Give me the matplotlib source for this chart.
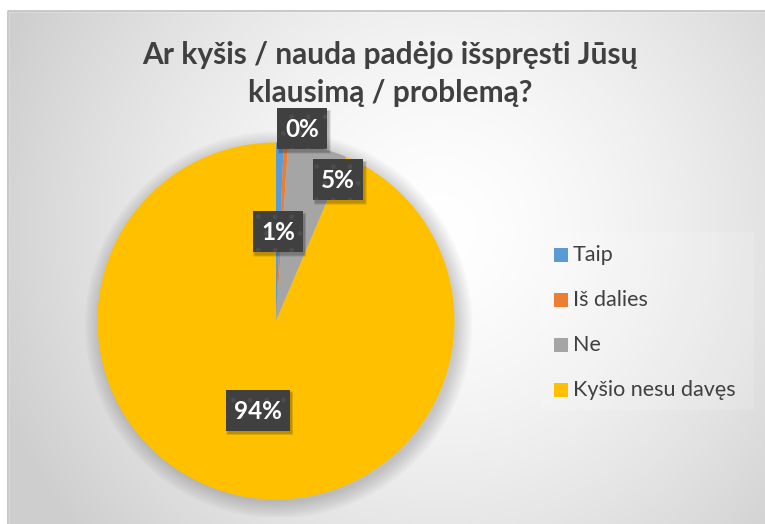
import numpy as np
import matplotlib
matplotlib.use('Agg')
import matplotlib.pyplot as plt
from matplotlib.patches import Rectangle, Circle

# ---- data ----
categories = ['Taip', 'Iš dalies', 'Ne', 'Kyšio nesu davęs']
values = [0.7, 0.4, 5.3, 93.6]
pct_labels = ['1%', '0%', '5%', '94%']
colors = ['#5B9BD5', '#ED7D31', '#A5A5A5', '#FFC000']
title = 'Ar kyšis / nauda padėjo išspręsti Jūsų\nklausimą / problemą?'

# label placement (radius factor, angle shift in degrees) - style
label_place = [(0.50, 0.0), (1.086, -4.5), (0.865, -10.2), (0.51, 0.0)]

FONT = 'Lato'
W, H = 765, 524
fig = plt.figure(figsize=(W / 100, H / 100), dpi=100)

# ---- background ----
bg = fig.add_axes([0, 0, 1, 1])
yy, xx = np.mgrid[0:H, 0:W]
d = np.hypot(xx - 440, yy - 230)
g = 1 - 0.19 * np.clip(d / 470, 0, 1) ** 1.5
img = np.dstack([g, g, g])
bg.imshow(img, extent=(0, W, H, 0), zorder=0, interpolation='bilinear')
bg.set_xlim(0, W)
bg.set_ylim(H, 0)
bg.set_aspect('auto')
bg.axis('off')
bg.add_patch(Rectangle((0, 0), W, 11, color='white', zorder=1))
bg.add_patch(Rectangle((0, 0), 8, H, color='white', zorder=1))
bg.plot([8, 8, W], [H, 11, 11], color='#bfbfbf', lw=1.2, zorder=2)

bg.text(390, 74, title, ha='center', va='center', fontsize=21.5, fontweight='bold',
        family=FONT, color='#404040', linespacing=1.42, zorder=3)

# ---- pie ----
cx, cy, r = 276, 321, 178.5
ax = fig.add_axes([(cx - 1.1 * r) / W, (H - cy - 1.1 * r) / H, 2.2 * r / W, 2.2 * r / H])
for i in range(8):
    ax.add_patch(Circle((0.015, -0.02), 1.0 + 0.012 * i, color='black',
                        alpha=0.025, lw=0, zorder=0))
wedges, _ = ax.pie(values, colors=colors, startangle=90, counterclock=False,
                   radius=1, wedgeprops=dict(linewidth=0))
for w in wedges:
    w.set_zorder(2)
ax.set_xlim(-1.1, 1.1)
ax.set_ylim(-1.1, 1.1)
ax.set_position([(cx - 1.1 * r) / W, (H - cy - 1.1 * r) / H, 2.2 * r / W, 2.2 * r / H])
ax.set_aspect('auto')
ax.axis('off')

# ---- overlay for labels and legend ----
fg = fig.add_axes([0, 0, 1, 1])
fg.set_xlim(0, W)
fg.set_ylim(H, 0)
fg.axis('off')
fg.patch.set_alpha(0)

for w, lab, (rf, dth) in zip(wedges, pct_labels, label_place):
    th = np.deg2rad((w.theta1 + w.theta2) / 2 + dth)
    px = cx + r * rf * np.cos(th)
    py = cy - r * rf * np.sin(th)
    bw = 50 if len(lab) <= 2 else 64
    bh = 41
    for s in range(4):
        fg.add_patch(Rectangle((px - bw / 2 + 2 - s * 0.5, py - bh / 2 + 3 - s * 0.5),
                               bw + s, bh + s, color='black', alpha=0.07, lw=0, zorder=4))
    fg.add_patch(Rectangle((px - bw / 2, py - bh / 2), bw, bh, facecolor='#404040',
                           edgecolor='#4d4d4d', hatch='.', lw=0, zorder=5))
    fg.text(px, py + 1, lab, ha='center', va='center', fontsize=17.5, fontweight='bold',
            family=FONT, color='white', zorder=6)

# legend
fg.add_patch(Rectangle((541, 232), 213, 178, facecolor='white', alpha=0.15, lw=0, zorder=3))
for i, (cat, col) in enumerate(zip(categories, colors)):
    y = 255 + 45 * i
    fg.add_patch(Rectangle((554, y - 7), 14, 14, color=col, lw=0, zorder=5))
    fg.text(573, y, cat, ha='left', va='center', fontsize=15.5, family=FONT,
            color='#404040', zorder=5)

fig.savefig('out.png', dpi=100)
